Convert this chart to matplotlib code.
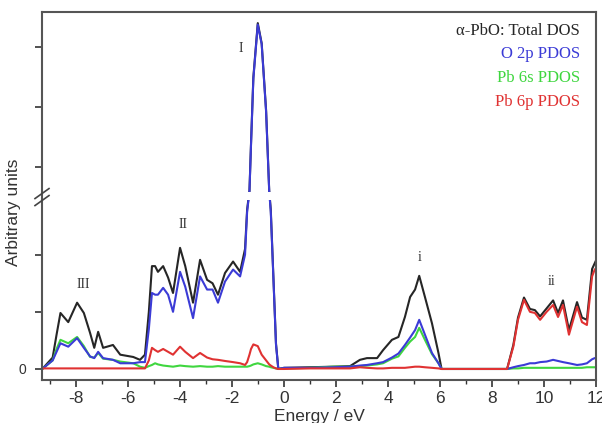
import numpy as np
import matplotlib
matplotlib.use("Agg")
import matplotlib.pyplot as plt
from matplotlib.ticker import FixedLocator, MultipleLocator, FixedFormatter

# ---------------- data ----------------
energy = [-9.3, -8.9, -8.75, -8.6, -8.3, -7.96, -7.7, -7.46, -7.3, -7.15, -6.96, -6.58,
          -6.3, -5.8, -5.54, -5.35, -5.2, -5.08, -4.96, -4.85, -4.65, -4.46, -4.27, -4.0,
          -3.8, -3.5, -3.23, -2.96, -2.75, -2.54, -2.27, -1.96, -1.69, -1.5, -1.42, -1.33,
          -1.27, -1.18, -1.01, -0.86, -0.69, -0.57, -0.51, -0.41, -0.31, -0.22, 0.0, 1.0,
          1.88, 2.54, 2.92, 3.19, 3.58, 3.81, 4.15, 4.4, 4.65, 4.85, 5.04, 5.2, 5.42, 5.69,
          5.94, 6.06, 7.0, 8.58, 8.82, 9.0, 9.23, 9.46, 9.65, 9.85, 10.1, 10.35, 10.54,
          10.73, 10.96, 11.27, 11.46, 11.65, 11.85, 11.95, 12.0]

total_dos = [0.0, 0.2, 0.6, 0.98, 0.82, 1.16, 0.98, 0.63, 0.37, 0.65, 0.37, 0.42,
             0.25, 0.21, 0.16, 0.25, 1.0, 1.8, 1.8, 1.7, 1.8, 1.6, 1.33, 2.12,
             1.8, 1.16, 1.91, 1.56, 1.5, 1.3, 1.68, 1.88, 1.7, 2.1, 2.79, 3.23,
             4.8, 7.0, 8.8, 8.13, 5.9, 3.23, 2.79, 1.62, 0.45, 0.0, 0.02, 0.03,
             0.04, 0.05, 0.16, 0.19, 0.19, 0.33, 0.51, 0.56, 0.91, 1.26, 1.39, 1.63, 1.26, 0.8,
             0.28, 0.0, 0.0, 0.0, 0.42, 0.9, 1.25, 1.05, 1.03, 0.92, 1.06, 1.2, 0.98,
             1.2, 0.68, 1.17, 0.9, 0.86, 1.75, 1.85, 1.9]

o2p_pdos = [0.0, 0.15, 0.3, 0.45, 0.39, 0.54, 0.37, 0.22, 0.19, 0.3, 0.19, 0.16,
            0.1, 0.1, 0.12, 0.12, 0.7, 1.33, 1.3, 1.3, 1.42, 1.3, 1.0, 1.7,
            1.44, 0.89, 1.62, 1.39, 1.39, 1.16, 1.53, 1.74, 1.62, 2.0, 2.75, 3.2,
            4.75, 6.95, 8.75, 8.1, 5.85, 3.2, 2.75, 1.6, 0.43, 0.0, 0.02, 0.02,
            0.03, 0.04, 0.06, 0.07, 0.1, 0.12, 0.2, 0.27, 0.42, 0.55, 0.68, 0.86, 0.6, 0.28,
            0.1, 0.0, 0.0, 0.0, 0.03, 0.05, 0.07, 0.1, 0.1, 0.12, 0.13, 0.16, 0.14,
            0.12, 0.1, 0.07, 0.08, 0.1, 0.17, 0.19, 0.19]

pb6s_pdos = [0.0, 0.15, 0.35, 0.51, 0.45, 0.56, 0.4, 0.21, 0.2, 0.28, 0.18, 0.16,
             0.13, 0.1, 0.04, 0.02, 0.05, 0.07, 0.1, 0.08, 0.06, 0.05, 0.04, 0.06,
             0.05, 0.04, 0.05, 0.04, 0.04, 0.05, 0.04, 0.04, 0.04, 0.04, 0.04, 0.05,
             0.06, 0.08, 0.1, 0.08, 0.05, 0.04, 0.03, 0.02, 0.01, 0.0, 0.01, 0.02,
             0.04, 0.04, 0.05, 0.06, 0.08, 0.1, 0.18, 0.22, 0.37, 0.48, 0.56, 0.72, 0.51, 0.26,
             0.1, 0.0, 0.0, 0.0, 0.01, 0.01, 0.02, 0.02, 0.02, 0.02, 0.02, 0.02, 0.02,
             0.02, 0.02, 0.02, 0.02, 0.03, 0.03, 0.03, 0.03]

pb6p_pdos = [0.01, 0.01, 0.01, 0.01, 0.01, 0.01, 0.01, 0.01, 0.01, 0.01, 0.01, 0.01,
             0.01, 0.01, 0.01, 0.01, 0.15, 0.37, 0.33, 0.3, 0.35, 0.3, 0.25, 0.39,
             0.3, 0.19, 0.28, 0.2, 0.17, 0.16, 0.14, 0.12, 0.1, 0.07, 0.12, 0.25,
             0.35, 0.43, 0.4, 0.25, 0.15, 0.08, 0.06, 0.03, 0.01, 0.0, 0.0, 0.01,
             0.01, 0.01, 0.03, 0.02, 0.01, 0.01, 0.02, 0.02, 0.02, 0.03, 0.04, 0.04, 0.03, 0.02,
             0.01, 0.0, 0.0, 0.0, 0.39, 0.86, 1.21, 1.0, 0.98, 0.86, 1.0, 1.12, 0.91,
             1.12, 0.6, 1.09, 0.82, 0.77, 1.62, 1.74, 1.76]

series_labels = ["\u03b1-PbO: Total DOS", "O 2p PDOS", "Pb 6s PDOS", "Pb 6p PDOS"]
series_colors = ["#262626", "#3b3bd6", "#3fd63f", "#e03232"]
peak_labels = ["I", "II", "III", "i", "ii"]
peak_pos = [(-1.65, 7.95), (-3.9, 2.53), (-7.73, 1.47), (5.2, 1.95), (10.3, 1.53)]
x_major = [-8, -6, -4, -2, 0, 2, 4, 6, 8, 10, 12]
y_ticks = [0, 1, 2, 4, 6, 8]
y_ticklabels = ["0", "", "", "", "", ""]

# ---------------- broken y scale ----------------
BREAK = 3.0
RATIO = 30.0 / 57.0


def fwd(y):
    y = np.asarray(y, dtype=float)
    return np.where(y <= BREAK, y, BREAK + (y - BREAK) * RATIO)


def inv(u):
    u = np.asarray(u, dtype=float)
    return np.where(u <= BREAK, u, BREAK + (u - BREAK) / RATIO)


plt.rcParams["font.family"] = ["Liberation Sans", "DejaVu Sans"]
plt.rcParams["axes.unicode_minus"] = False
fig = plt.figure(figsize=(6.02, 4.23), dpi=100)
ax = fig.add_axes([42 / 602, 1 - 380 / 423, (596 - 42) / 602, (380 - 12) / 423])
ax.set_yscale("function", functions=(fwd, inv))

series = [total_dos, pb6s_pdos, o2p_pdos, pb6p_pdos]
cols = [series_colors[0], series_colors[2], series_colors[1], series_colors[3]]
for vals, c in zip(series, cols):
    ax.plot(energy, vals, color=c, lw=1.5, solid_joinstyle="round")

ax.set_xlim(-9.31, 12.0)
ax.set_ylim(-0.193, 9.17)

# gap in the peak lines at the axis break
ax.axhspan(2.96, 3.2, xmin=0.36, xmax=0.42, color="white", zorder=5, lw=0)

ax.xaxis.set_major_locator(FixedLocator(x_major))
ax.xaxis.set_minor_locator(MultipleLocator(1))
ax.yaxis.set_major_locator(FixedLocator(y_ticks))
ax.yaxis.set_major_formatter(FixedFormatter(y_ticklabels))
ax.yaxis.set_minor_locator(FixedLocator([]))
ax.tick_params(axis="x", which="major", direction="out", length=5, width=1.2,
               labelsize=12.5, colors="#333333", pad=3)
ax.tick_params(axis="x", which="minor", direction="out", length=3, width=1.0, colors="#333333")
ax.tick_params(axis="y", which="major", direction="out", length=5, width=1.2,
               labelsize=10, colors="#333333", pad=6)
for s in ax.spines.values():
    s.set_color("#555555")
    s.set_linewidth(1.5)

ax.set_xlabel("Energy / eV", fontsize=12.5, color="#333333", labelpad=2)
ax.set_ylabel("Arbitrary units", fontsize=12.5, color="#333333", va="center")
ax.yaxis.set_label_coords(-0.052, 0.457)

# break marks on the left spine
ybf = (fwd(BREAK) - fwd(-0.193)) / (fwd(9.17) - fwd(-0.193))
dx, dy = 7 / 554, 5 / 368
for off in (-3 / 368, 4 / 368):
    ax.plot([-dx, dx], [ybf + off - dy, ybf + off + dy], transform=ax.transAxes,
            color="#444444", lw=1.2, clip_on=False, zorder=6)

# peak labels
for lab, (px, py) in zip(peak_labels, peak_pos):
    ax.text(px, py, lab, family="Liberation Serif", fontsize=10, color="#333333",
            ha="center", va="center")

# legend text
ly = [0.948, 0.886, 0.822, 0.755]
for lab, c, y in zip(series_labels, series_colors, ly):
    ax.text(0.971, y, lab, transform=ax.transAxes, family="Liberation Serif",
            fontsize=12, color=c, ha="right", va="center")

fig.savefig("out.png", dpi=100)
